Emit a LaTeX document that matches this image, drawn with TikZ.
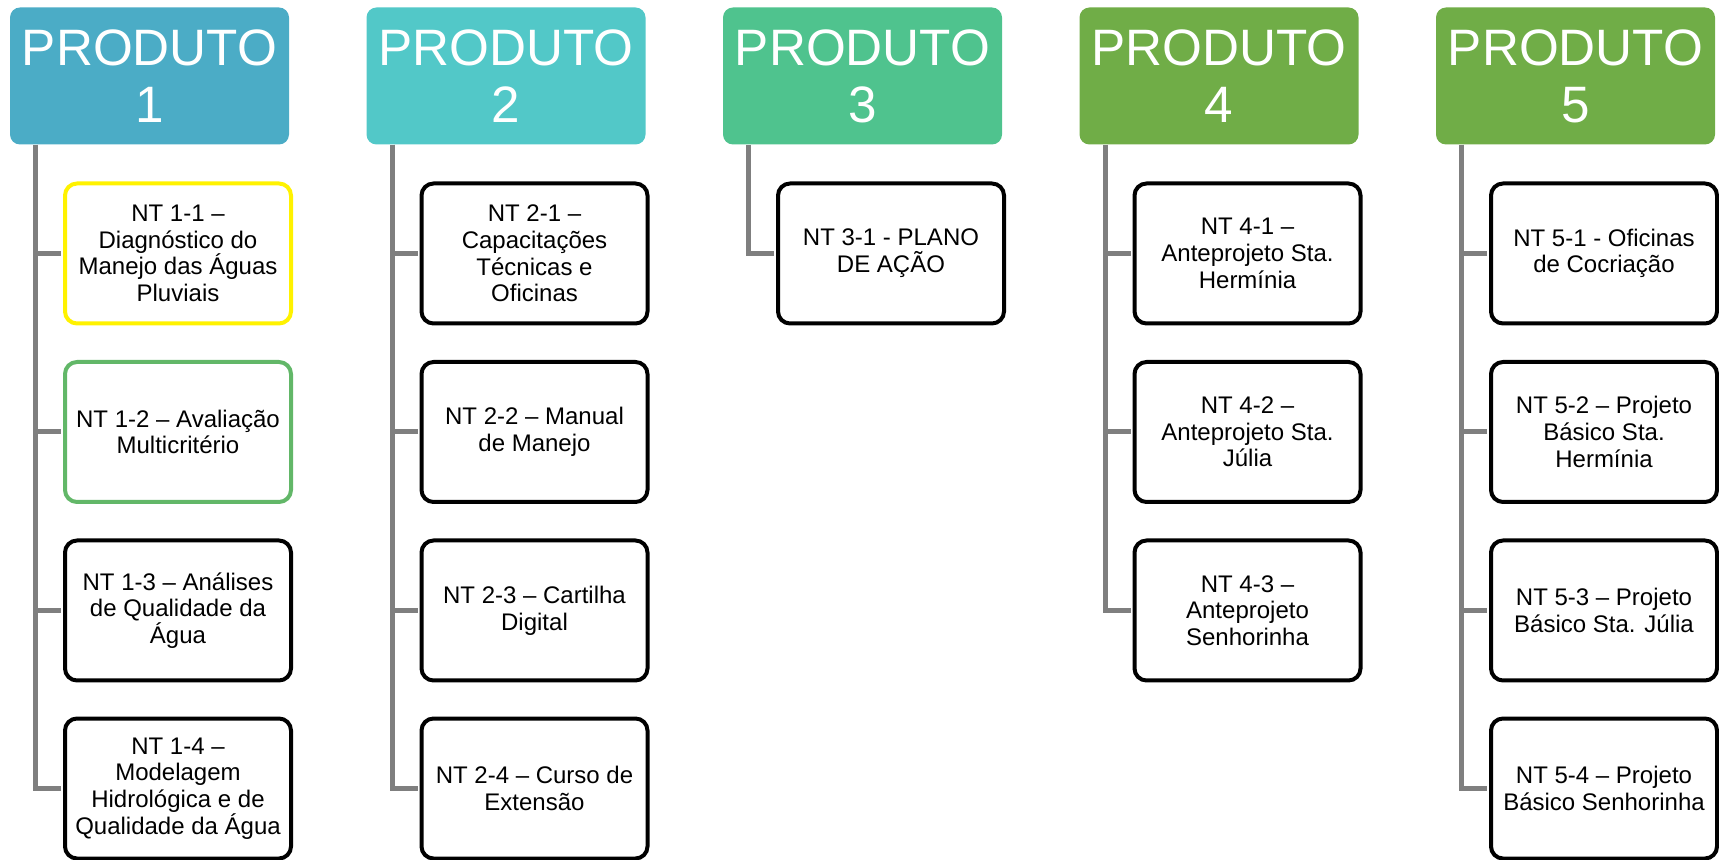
\documentclass[tikz,border=0pt]{standalone}
\usepackage{fontspec}
\setmainfont{Liberation Sans}
\definecolor{azul}{HTML}{4BACC6}
\definecolor{turquesa}{HTML}{52C8C8}
\definecolor{verdeagua}{HTML}{4FC38E}
\definecolor{verde}{HTML}{70AD47}
\definecolor{verdeclaro}{HTML}{62B768}
\definecolor{cinza}{HTML}{7F7F7F}
\tikzset{
  produto/.style={fill=#1, draw=none, rounded corners=5pt, minimum width=139.5pt,
    minimum height=68.5pt, inner sep=0pt, text=white, align=center,
    font=\fontsize{25.6}{28.5}\selectfont},
  nota/.style={draw=black, line width=2pt, rounded corners=6pt, fill=white,
    minimum width=113pt, minimum height=70pt, inner sep=0pt, align=center,
    font=\fontsize{12}{13.35}\selectfont},
  ligacao/.style={draw=cinza, line width=2.5pt, shorten >=1pt},
}

\begin{document}
\begin{tikzpicture}[x=0.5pt, y=-0.5pt]
\useasboundingbox (0,0) rectangle (1719,860);

% produtos
\node[produto=azul] (p1) at (149.5,76) {PRODUTO\\1};
\node[produto=turquesa] (p2) at (506,76) {PRODUTO\\2};
\node[produto=verdeagua] (p3) at (862.5,76) {PRODUTO\\3};
\node[produto=verde] (p4) at (1219,76) {PRODUTO\\4};
\node[produto=verde] (p5) at (1575.5,76) {PRODUTO\\5};

% notas tecnicas
\node[nota, draw=yellow] (n11) at (178,253.5) {NT 1-1 –\\Diagnóstico do\\Manejo das Águas\\Pluviais};
\node[nota, draw=verdeclaro] (n12) at (178,432) {NT 1-2 – Avaliação\\Multicritério};
\node[nota] (n13) at (178,610.5) {NT 1-3 – Análises\\de Qualidade da\\Água};
\node[nota] (n14) at (178,788.5) {NT 1-4 –\\Modelagem\\Hidrológica e de\\Qualidade da Água};

\node[nota] (n21) at (534.5,253.5) {NT 2-1 –\\Capacitações\\Técnicas e\\Oficinas};
\node[nota] (n22) at (534.5,432) {NT 2-2 – Manual\\de Manejo};
\node[nota] (n23) at (534.5,610.5) {NT 2-3 – Cartilha\\Digital};
\node[nota] (n24) at (534.5,788.5) {NT 2-4 – Curso de\\Extensão};

\node[nota] (n31) at (891,253.5) {NT 3-1 - PLANO\\DE AÇÃO};

\node[nota] (n41) at (1247.5,253.5) {NT 4-1 –\\Anteprojeto Sta.\\Hermínia};
\node[nota] (n42) at (1247.5,432) {NT 4-2 –\\Anteprojeto Sta.\\Júlia};
\node[nota] (n43) at (1247.5,610.5) {NT 4-3 –\\Anteprojeto\\Senhorinha};

\node[nota] (n51) at (1604,253.5) {NT 5-1 - Oficinas\\de Cocriação};
\node[nota] (n52) at (1604,432) {NT 5-2 – Projeto\\Básico Sta.\\Hermínia};
\node[nota] (n53) at (1604,610.5) {NT 5-3 – Projeto\\Básico Sta. Júlia};
\node[nota] (n54) at (1604,788.5) {NT 5-4 – Projeto\\Básico Senhorinha};

% ligacoes
\coordinate (t1) at ([xshift=13pt]p1.south west);
\coordinate (t2) at ([xshift=13pt]p2.south west);
\coordinate (t3) at ([xshift=13pt]p3.south west);
\coordinate (t4) at ([xshift=13pt]p4.south west);
\coordinate (t5) at ([xshift=13pt]p5.south west);
\foreach \n in {11,12,13,14} \draw[ligacao] (t1) |- (n\n.west);
\foreach \n in {21,22,23,24} \draw[ligacao] (t2) |- (n\n.west);
\draw[ligacao] (t3) |- (n31.west);
\foreach \n in {41,42,43} \draw[ligacao] (t4) |- (n\n.west);
\foreach \n in {51,52,53,54} \draw[ligacao] (t5) |- (n\n.west);
\end{tikzpicture}
\end{document}
